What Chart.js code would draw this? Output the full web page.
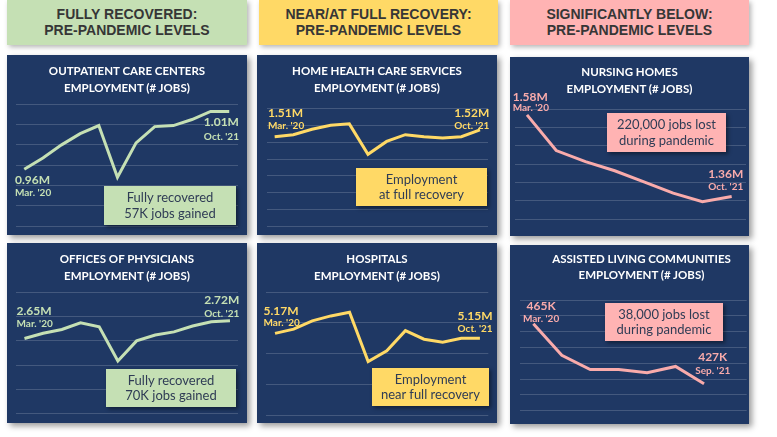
<!DOCTYPE html>
<html>
<head>
<meta charset="utf-8">
<script src="https://cdn.jsdelivr.net/npm/chart.js@4.4.0/dist/chart.umd.min.js"></script>
<style>
  body { margin: 0; width: 777px; height: 437px; background: #fff; position: relative; overflow: hidden; font-family: Lato, "Open Sans", sans-serif; }
  .hdr { position: absolute; top: 0; height: 45px; display: flex; align-items: center; justify-content: center; text-align: center;
         font-family: "Liberation Sans", Arial, sans-serif; font-weight: 700; font-size: 14px; line-height: 15.5px; color: #363636;
         box-shadow: 2px 2px 5px rgba(0,0,0,.3); }
  .panel { position: absolute; background: #1f3864; box-shadow: 3px 3px 6px rgba(0,0,0,.4); }
  .panel canvas { position: absolute; left: 0; top: 0; }
  .ttl { position: absolute; left: 0; right: 0; top: 7px; text-align: center; color: #fff; font-weight: 700; font-size: 11.5px; line-height: 17px; }
  .note { position: absolute; display: flex; align-items: center; justify-content: center; text-align: center;
          color: #2f3c55; font-size: 13px; line-height: 15.5px; box-shadow: 2px 2px 4px rgba(0,0,0,.45); }
</style>
</head>
<body>
<div class="hdr" style="left:7px;width:240px;background:#c5e0b4">FULLY RECOVERED:<br>PRE-PANDEMIC LEVELS</div>
<div class="hdr" style="left:259px;width:239px;background:#ffd966">NEAR/AT FULL RECOVERY:<br>PRE-PANDEMIC LEVELS</div>
<div class="hdr" style="left:510px;width:239px;background:#ffb3b3">SIGNIFICANTLY BELOW:<br>PRE-PANDEMIC LEVELS</div>

<div class="panel" id="p1" style="left:7px;top:55px;width:240px;height:180px">
  <canvas id="c1" width="240" height="180"></canvas>
  <div class="ttl">OUTPATIENT CARE CENTERS<br>EMPLOYMENT (# JOBS)</div>
</div>
<div class="panel" id="p2" style="left:257px;top:55px;width:240px;height:180px">
  <canvas id="c2" width="240" height="180"></canvas>
  <div class="ttl">HOME HEALTH CARE SERVICES<br>EMPLOYMENT (# JOBS)</div>
</div>
<div class="panel" id="p3" style="left:510px;top:57px;width:239px;height:179px">
  <canvas id="c3" width="239" height="179"></canvas>
  <div class="ttl" style="top:6px">NURSING HOMES<br>EMPLOYMENT (# JOBS)</div>
</div>
<div class="panel" id="p4" style="left:7px;top:243px;width:240px;height:180px">
  <canvas id="c4" width="240" height="180"></canvas>
  <div class="ttl">OFFICES OF PHYSICIANS<br>EMPLOYMENT (# JOBS)</div>
</div>
<div class="panel" id="p5" style="left:257px;top:243px;width:240px;height:180px">
  <canvas id="c5" width="240" height="180"></canvas>
  <div class="ttl">HOSPITALS<br>EMPLOYMENT (# JOBS)</div>
</div>
<div class="panel" id="p6" style="left:510px;top:245px;width:239px;height:179px">
  <canvas id="c6" width="239" height="179"></canvas>
  <div class="ttl" style="top:6px;padding-left:24px;line-height:16px">ASSISTED LIVING COMMUNITIES<br>EMPLOYMENT (# JOBS)</div>
</div>

<div class="note" style="left:104px;top:186px;width:132px;height:39px;background:#c5e0b4">Fully recovered<br>57K jobs gained</div>
<div class="note" style="left:356px;top:168px;width:131px;height:38px;background:#ffd966">Employment<br>at full recovery</div>
<div class="note" style="left:607px;top:113px;width:119px;height:39px;background:#ffb3b3">220,000 jobs lost<br>during pandemic</div>
<div class="note" style="left:106px;top:369px;width:130px;height:38px;background:#c5e0b4">Fully recovered<br>70K jobs gained</div>
<div class="note" style="left:372px;top:368px;width:117px;height:38px;background:#ffd966">Employment<br>near full recovery</div>
<div class="note" style="left:605px;top:303px;width:118px;height:38px;background:#ffb3b3">38,000 jobs lost<br>during pandemic</div>

<script>
// periods along each line (thousands of jobs)
const periods12 = ["Mar. '20", "p2", "p3", "p4", "p5", "p6", "p7", "p8", "p9", "p10", "p11", "Oct. '21"];
const periods8 = ["Mar. '20", "p2", "p3", "p4", "p5", "p6", "Sep. '21", "Oct. '21"];

const outpatientJobs = [956, 967, 980, 991, 999, 948, 982, 998, 999, 1005, 1013, 1013];
const homeHealthJobs = [1508, 1511, 1519, 1525, 1527, 1482, 1501, 1511, 1508, 1506, 1508, 1518];
const nursingJobs = [1584, 1487, 1457, 1432, 1402, 1371, 1348, 1362];
const physiciansJobs = [2650, 2671, 2687, 2714, 2698, 2557, 2640, 2664, 2677, 2701, 2719, 2723];
const hospitalJobs = [5166, 5180, 5207, 5223, 5235, 5074, 5109, 5175, 5147, 5137, 5150, 5150];
const assistedJobs = [465, 445, 436, 436, 434, 438, 427, null];

const startLabels = [["0.96M", "Mar. '20"], ["1.51M", "Mar. '20"], ["1.58M", "Mar. '20"],
                     ["2.65M", "Mar. '20"], ["5.17M", "Mar. '20"], ["465K", "Mar. '20"]];
const endLabels = [["1.01M", "Oct. '21"], ["1.52M", "Oct. '21"], ["1.36M", "Oct. '21"],
                   ["2.72M", "Oct. '21"], ["5.15M", "Oct. '21"], ["427K", "Sep. '21"]];

const GREEN = "#c5e0b4", YELLOW = "#ffd966", PINK = "#f9abab";

const pointLabels = {
  id: "pointLabels",
  afterDatasetsDraw(chart, args, opts) {
    const meta = chart.getDatasetMeta(0);
    const ctx = chart.ctx;
    ctx.save();
    ctx.fillStyle = opts.color;
    ctx.textBaseline = "middle";
    opts.items.forEach(l => {
      const p = meta.data[l.index];
      ctx.textAlign = l.align;
      ctx.font = "bold 12px Lato";
      ctx.fillText(l.text[0], p.x + l.dx, p.y + l.dy);
      ctx.font = "bold 10px Lato";
      ctx.fillText(l.text[1], p.x + l.dx, p.y + l.dy2);
    });
    ctx.restore();
  }
};

function lineChart(id, labels, values, color, yr, xr, pad, items) {
  new Chart(document.getElementById(id), {
    type: "line",
    data: {
      labels: labels,
      datasets: [{
        data: values.map((v, i) => ({ x: i, y: v })),
        borderColor: color,
        borderWidth: 3,
        pointRadius: 0,
        tension: 0,
        spanGaps: false,
        clip: false
      }]
    },
    options: {
      responsive: false,
      animation: false,
      layout: { padding: pad },
      plugins: { legend: { display: false }, tooltip: { enabled: false }, pointLabels: { color: color, items: items } },
      scales: {
        x: { type: "linear", display: false, min: xr[0], max: xr[1] },
        y: {
          min: yr[0], max: yr[1],
          ticks: { display: false, stepSize: yr[2] },
          grid: { color: "rgba(255,255,255,0.17)", lineWidth: 1, drawTicks: false },
          border: { display: false }
        }
      }
    },
    plugins: [pointLabels]
  });
}

lineChart("c1", periods12, outpatientJobs, GREEN, [900, 1020, 20], [-0.46, 11.47],
  { left: 8.7, right: 9, top: 49.3, bottom: 9 },
  [{ index: 0, text: startLabels[0], align: "left", dx: -9.3, dy: 10.7, dy2: 23.7 },
   { index: 11, text: endLabels[0], align: "right", dx: 9.7, dy: 11, dy2: 25 }]);

lineChart("c2", periods12, homeHealthJobs, YELLOW, [1375, 1550, 25], [-0.41, 11.43],
  { left: 10, right: 9, top: 53.3, bottom: 8.3 },
  [{ index: 0, text: startLabels[1], align: "left", dx: -6.7, dy: -23.4, dy2: -10.7 },
   { index: 11, text: endLabels[1], align: "right", dx: 9.3, dy: -16.7, dy2: -4 }]);

lineChart("c3", periods8, nursingJobs, PINK, [1300, 1600, 50], [-0.41, 7.49],
  { left: 5, right: 3, top: 52, bottom: 16.7 },
  [{ index: 0, text: startLabels[2], align: "left", dx: -14.3, dy: -17.7, dy2: -6.7 },
   { index: 7, text: endLabels[2], align: "right", dx: 11.6, dy: -22.7, dy2: -9.7 }]);

lineChart("c4", periods12, physiciansJobs, GREEN, [2340, 2840, 100], [-0.47, 11.43],
  { left: 8.7, right: 9, top: 49.3, bottom: 9.3 },
  [{ index: 0, text: startLabels[3], align: "left", dx: -8, dy: -27.3, dy2: -14.3 },
   { index: 11, text: endLabels[3], align: "right", dx: 9.3, dy: -20.7, dy2: -7.4 }]);

lineChart("c5", periods12, hospitalJobs, YELLOW, [4900, 5300, 100], [-0.5, 11.45],
  { left: 8.7, right: 8.7, top: 49.3, bottom: 8 },
  [{ index: 0, text: startLabels[4], align: "left", dx: -11.5, dy: -22.6, dy2: -10.6 },
   { index: 11, text: endLabels[4], align: "right", dx: 12.7, dy: -22.3, dy2: -9.6 }]);

lineChart("c6", periods8, assistedJobs, PINK, [410, 480, 10], [-0.47, 7.5],
  { left: 10, right: 2.3, top: 55, bottom: 13.3 },
  [{ index: 0, text: startLabels[5], align: "center", dx: 7.7, dy: -17.7, dy2: -5.4 },
   { index: 6, text: endLabels[5], align: "center", dx: 8.7, dy: -26.3, dy2: -13.3 }]);
</script>
</body>
</html>
